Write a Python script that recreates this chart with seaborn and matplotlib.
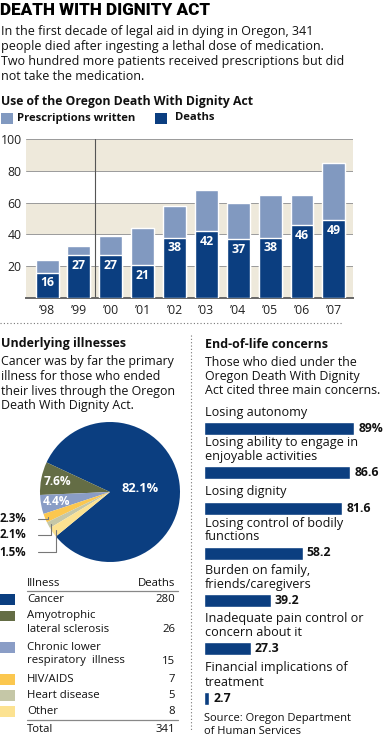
import matplotlib
matplotlib.use("Agg")
import matplotlib.pyplot as plt
from matplotlib.patches import Rectangle
from matplotlib.lines import Line2D
import numpy as np
import seaborn as sns

# Data
years = ["\u201998", "\u201999", "\u201900", "\u201901", "\u201902",
         "\u201903", "\u201904", "\u201905", "\u201906", "\u201907"]
prescriptions = [24, 33, 39, 44, 58, 68, 60, 65, 65, 85]
deaths = [16, 27, 27, 21, 38, 42, 37, 38, 46, 49]

illnesses = ["Cancer", "Amyotrophic\nlateral sclerosis", "Chronic lower\nrespiratory  illness",
             "HIV/AIDS", "Heart disease", "Other"]
illness_deaths = [280, 26, 15, 7, 5, 8]
pie_labels = ["82.1%", "7.6%", "4.4%", "2.3%", "2.1%", "1.5%"]
total_deaths = 341

concerns = ["Losing autonomy", "Losing ability to engage in\nenjoyable activities",
            "Losing dignity", "Losing control of bodily\nfunctions",
            "Burden on family,\nfriends/caregivers",
            "Inadequate pain control or\nconcern about it",
            "Financial implications of\ntreatment"]
concern_pct = [89, 86.6, 81.6, 58.2, 39.2, 27.3, 2.7]
concern_labels = ["89%", "86.6", "81.6", "58.2", "39.2", "27.3", "2.7"]

# Style
DARK = "#0B3E80"
LIGHT = "#8199C0"
BEIGE = "#EEE9DB"
pie_colors = [DARK, "#646D45", "#8A9DC6", "#FBC74F", "#C5C7A7", "#FCE291"]

sns.set_style("white")
plt.rcParams["font.family"] = ["Open Sans", "DejaVu Sans"]

W, H = 383, 737
fig = plt.figure(figsize=(W / 100, H / 100), dpi=100)


def fx(x):
    return x / W


def fy(y):
    return 1 - y / H


def put(x, y, s, **kw):
    kw.setdefault("va", "center")
    kw.setdefault("fontsize", 9)
    kw.setdefault("color", "#111111")
    return fig.text(fx(x), fy(y), s, **kw)


def box(x0, y0, x1, y1, color):
    fig.add_artist(Rectangle((fx(x0), fy(y1)), (x1 - x0) / W, (y1 - y0) / H,
                             transform=fig.transFigure, color=color, lw=0))


def axes_px(x0, y0, x1, y1):
    return fig.add_axes([fx(x0), fy(y1), (x1 - x0) / W, (y1 - y0) / H])


# Header
put(0, 10, "DEATH WITH DIGNITY ACT", fontsize=12.3, weight="black", color="black",
    family=["Roboto", "DejaVu Sans"])
intro = ["In the first decade of legal aid in dying in Oregon, 341",
         "people died after ingesting a lethal dose of medication.",
         "Two hundred more patients received prescriptions but did",
         "not take the medication."]
for i, line in enumerate(intro):
    put(1, 32 + 14.8 * i, line, fontsize=9)
put(1, 101, "Use of the Oregon Death With Dignity Act", fontsize=8.8, weight="bold")

# Legend
box(1, 113, 13, 124, LIGHT)
put(17, 118, "Prescriptions written", weight="bold", fontsize=8.1)
box(155, 113, 167, 124, DARK)
put(175, 118, "Deaths", weight="bold", fontsize=8.1)

# Stacked bar chart
ax = axes_px(26, 139, 353, 298)
for lo, hi in [(0, 20), (40, 60), (80, 100)]:
    ax.axhspan(lo, hi, color=BEIGE, lw=0, zorder=0)
sns.barplot(x=years, y=prescriptions, color=LIGHT, saturation=1, width=0.72, ax=ax, zorder=2)
sns.barplot(x=years, y=deaths, color=DARK, saturation=1, width=0.72, ax=ax, zorder=3)
for i, v in enumerate(deaths):
    ax.annotate(str(v), (i, v), xytext=(0, -7.5), textcoords="offset points",
                ha="center", va="center", color="white", weight="bold", fontsize=8.8, zorder=4)
ax.set_ylim(0, 100)
ax.set_xlim(-0.66, 9.6)
ax.set_yticks([20, 40, 60, 80, 100])
ax.yaxis.grid(True, color="#9A9A9A", lw=0.7)
ax.set_axisbelow(True)
ax.axvline(1.5, color="#555555", lw=0.8, zorder=1)
ax.tick_params(axis="both", length=0, labelsize=8.8, colors="#222222")
ax.tick_params(axis="y", pad=3)
ax.tick_params(axis="x", pad=4)
ax.set_xlabel("")
ax.set_ylabel("")
for s in ["top", "right", "left"]:
    ax.spines[s].set_visible(False)
ax.spines["bottom"].set_color("#666666")
ax.spines["bottom"].set_linewidth(1.4)

# Dotted separators
fig.add_artist(Line2D([fx(0), fx(343)], [fy(323), fy(323)], transform=fig.transFigure,
                      color="#777777", lw=0.8, ls=(0, (1, 2))))
fig.add_artist(Line2D([fx(191), fx(191)], [fy(335), fy(730)], transform=fig.transFigure,
                      color="#777777", lw=0.8, ls=(0, (1, 2))))

# Left panel: underlying illnesses
put(1, 344, "Underlying illnesses", weight="bold", fontsize=9)
left_text = ["Cancer was by far the primary", "illness for those who ended",
             "their lives through the Oregon", "Death With Dignity Act."]
for i, line in enumerate(left_text):
    put(1, 362 + 14.5 * i, line, fontsize=8.9)

pax = axes_px(40, 422, 180, 562)
wedges, _ = pax.pie(illness_deaths, colors=pie_colors, startangle=219.4, counterclock=True,
                    wedgeprops=dict(linewidth=0))
pax.set_xlim(-1, 1)
pax.set_ylim(-1, 1)
pax.set_aspect("equal")
pax.axis("off")

inside = [(0, 0.43), (1, 0.76), (2, 0.77)]
for idx, r in inside:
    w = wedges[idx]
    ang = np.deg2rad((w.theta1 + w.theta2) / 2)
    pax.text(r * np.cos(ang), r * np.sin(ang), pie_labels[idx], ha="center", va="center",
             color="white", weight="bold", fontsize=9.2 if idx == 0 else 8.6)

out_y = [519, 535, 552]
for k, idx in enumerate([3, 4, 5]):
    w = wedges[idx]
    ang = np.deg2rad((w.theta1 + w.theta2) / 2)
    pax.annotate(pie_labels[idx], xy=(0.95 * np.cos(ang), 0.95 * np.sin(ang)),
                 xytext=(fx(26), fy(out_y[k])), textcoords="figure fraction",
                 ha="right", va="center", weight="bold", fontsize=8.3, color="#111111",
                 annotation_clip=False,
                 arrowprops=dict(arrowstyle="-", color="#777777", lw=0.8, shrinkA=6, shrinkB=0,
                                 connectionstyle="angle,angleA=0,angleB=90,rad=0"))

# Table
TS = 8.2
put(27, 583, "Illness", fontsize=TS)
put(175, 583, "Deaths", fontsize=TS, ha="right")
fig.add_artist(Line2D([fx(27), fx(178)], [fy(591), fy(591)], transform=fig.transFigure,
                      color="#888888", lw=0.9))
row_y = [599, 615.5, 647, 679, 695, 711]
for name, val, col, y in zip(illnesses, illness_deaths, pie_colors, row_y):
    lines = name.split("\n")
    for j, ln in enumerate(lines):
        put(27, y + 14 * j, ln, fontsize=TS)
    put(175, y + 14 * (len(lines) - 1), str(val), fontsize=TS, ha="right")
    box(0, y - 5, 15, y + 5.5, col)
fig.add_artist(Line2D([fx(27), fx(178)], [fy(720), fy(720)], transform=fig.transFigure,
                      color="#888888", lw=0.9))
put(27, 729, "Total", fontsize=TS)
put(175, 729, str(total_deaths), fontsize=TS, ha="right")

# Right panel: end-of-life concerns
put(205, 344, "End-of-life concerns", weight="bold", fontsize=9)
right_text = ["Those who died under the", "Oregon Death With Dignity",
              "Act cited three main concerns."]
for i, line in enumerate(right_text):
    put(205, 362 + 14.5 * i, line, fontsize=8.9)

bar_y = [428.5, 472.5, 508, 553, 600.5, 648.5, 698]
for name, val, lab, yc in zip(concerns, concern_pct, concern_labels, bar_y):
    lines = name.split("\n")
    for j, ln in enumerate(reversed(lines)):
        put(205, yc - 16 - 14 * j, ln, fontsize=9.1)
    bax = axes_px(204.5, yc - 6.5, 204.5 + 168.5, yc + 6.5)
    sns.barplot(x=[val], y=[name], orient="h", color=DARK, saturation=1, width=1, ax=bax)
    bax.set_xlim(0, 100)
    bax.set_ylim(0.5, -0.5)
    bax.axis("off")
    bax.annotate(lab, (val, 0), xytext=(3, 0), textcoords="offset points",
                 ha="left", va="center", weight="bold", fontsize=8.8, color="#111111",
                 annotation_clip=False)

put(204, 719, "Source: Oregon Department", fontsize=8)
put(204, 731, "of Human Services", fontsize=8)

fig.savefig("out.png", dpi=100)
